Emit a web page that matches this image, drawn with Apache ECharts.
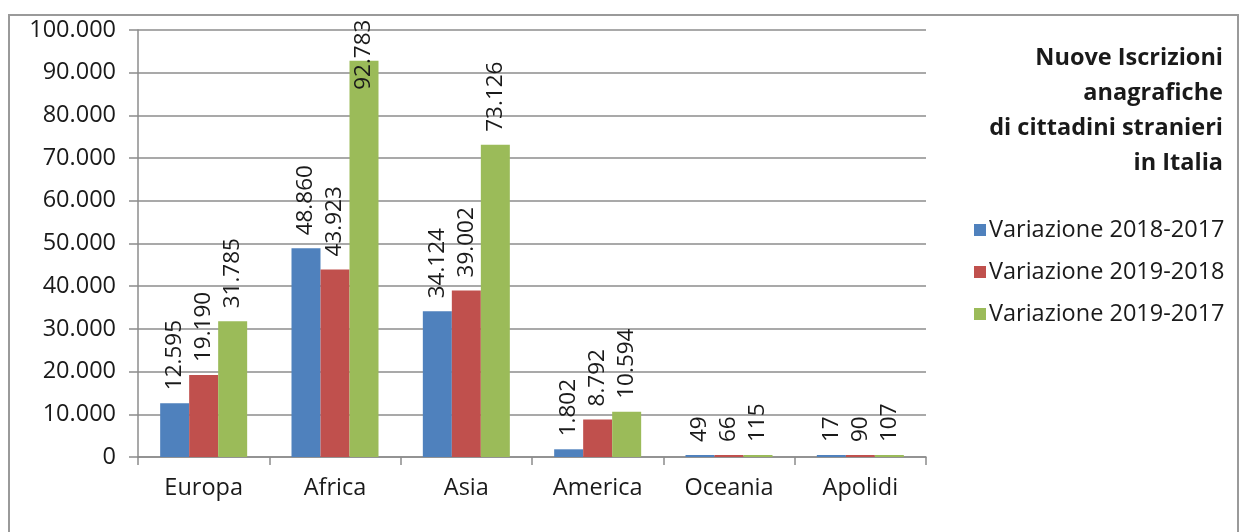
<!DOCTYPE html>
<html>
<head>
<meta charset="utf-8">
<title>Nuove Iscrizioni anagrafiche di cittadini stranieri in Italia</title>
<script src="https://cdn.jsdelivr.net/npm/echarts@6/dist/echarts.min.js"></script>
<style>
  html, body { margin: 0; padding: 0; background: #ffffff; }
  #chart { width: 1243px; height: 532px; }
</style>
</head>
<body>
<div id="chart"></div>
<script>
// Aree di provenienza
const categories = ['Europa', 'Africa', 'Asia', 'America', 'Oceania', 'Apolidi'];

// Variazioni delle nuove iscrizioni anagrafiche
const seriesNames = ['Variazione 2018-2017', 'Variazione 2019-2018', 'Variazione 2019-2017'];
const var2018_2017 = [12595, 48860, 34124, 1802, 49, 17];
const var2019_2018 = [19190, 43923, 39002, 8792, 66, 90];
const var2019_2017 = [31785, 92783, 73126, 10594, 115, 107];

// Scala dell'asse dei valori
const yMin = 0;
const yMax = 100000;
const yStep = 10000;

const colors = ['#4F81BD', '#C0504D', '#9BBB59'];
const FONT = '"Open Sans", sans-serif';
const FS = 23.5;

// Separatore delle migliaia all'italiana
function fmt(v) {
  return String(v).replace(/\B(?=(\d{3})+(?!\d))/g, '.');
}

// Etichette troppo alte per stare nel grafico vengono spostate dentro la barra
function toData(values) {
  return values.map(function (v) {
    if (v > 0.85 * yMax) {
      return { value: v, label: { distance: -29 } };
    }
    return v;
  });
}

const chart = echarts.init(document.getElementById('chart'), null, { renderer: 'canvas' });

const barLabel = {
  show: true,
  position: 'top',
  rotate: 90,
  align: 'left',
  verticalAlign: 'middle',
  distance: 13,
  fontFamily: FONT,
  fontSize: 22.5,
  color: '#1a1a1a',
  formatter: function (p) { return fmt(p.value); }
};

const valueSets = [var2018_2017, var2019_2018, var2019_2017];

chart.setOption({
  backgroundColor: '#ffffff',
  animation: false,
  title: {
    text: 'Nuove Iscrizioni\nanagrafiche\ndi cittadini stranieri\nin Italia',
    left: 1218,
    top: 36,
    textAlign: 'right',
    textStyle: {
      fontFamily: FONT,
      fontSize: FS,
      fontWeight: 'bold',
      lineHeight: 35,
      color: '#1a1a1a'
    }
  },
  legend: {
    orient: 'vertical',
    left: 969,
    top: 213,
    icon: 'rect',
    itemWidth: 12,
    itemHeight: 12,
    itemGap: 18,
    textStyle: {
      fontFamily: FONT,
      fontSize: FS,
      lineHeight: 24,
      color: '#1a1a1a',
      padding: [0, 0, 0, -2]
    },
    data: seriesNames
  },
  graphic: [{
    type: 'rect',
    shape: { x: 9, y: 15, width: 1229, height: 540 },
    style: { fill: 'none', stroke: '#9a9a9a', lineWidth: 2 },
    silent: true,
    z: -1
  }],
  grid: {
    left: 138,
    right: 317,
    top: 30,
    bottom: 75,
    containLabel: false
  },
  xAxis: {
    type: 'category',
    data: categories,
    axisLine: { show: true, lineStyle: { color: '#8c8c8c', width: 1.5 } },
    axisTick: { show: true, length: 8, lineStyle: { color: '#8c8c8c', width: 1.5 } },
    axisLabel: {
      margin: 19,
      fontFamily: FONT,
      fontSize: FS,
      color: '#1a1a1a'
    }
  },
  yAxis: {
    type: 'value',
    min: yMin,
    max: yMax,
    interval: yStep,
    axisLine: { show: true, lineStyle: { color: '#8c8c8c', width: 1.5 } },
    axisTick: { show: true, length: 9, lineStyle: { color: '#8c8c8c', width: 1.5 } },
    splitLine: { show: true, lineStyle: { color: '#8c8c8c', width: 1.5 } },
    axisLabel: {
      margin: 22,
      fontFamily: FONT,
      fontSize: FS,
      color: '#1a1a1a',
      formatter: function (v) { return fmt(v); }
    }
  },
  series: seriesNames.map(function (name, i) {
    return {
      name: name,
      type: 'bar',
      barWidth: 29,
      barGap: '0%',
      barMinHeight: 2,
      itemStyle: { color: colors[i] },
      label: barLabel,
      data: toData(valueSets[i])
    };
  })
});
</script>
</body>
</html>
